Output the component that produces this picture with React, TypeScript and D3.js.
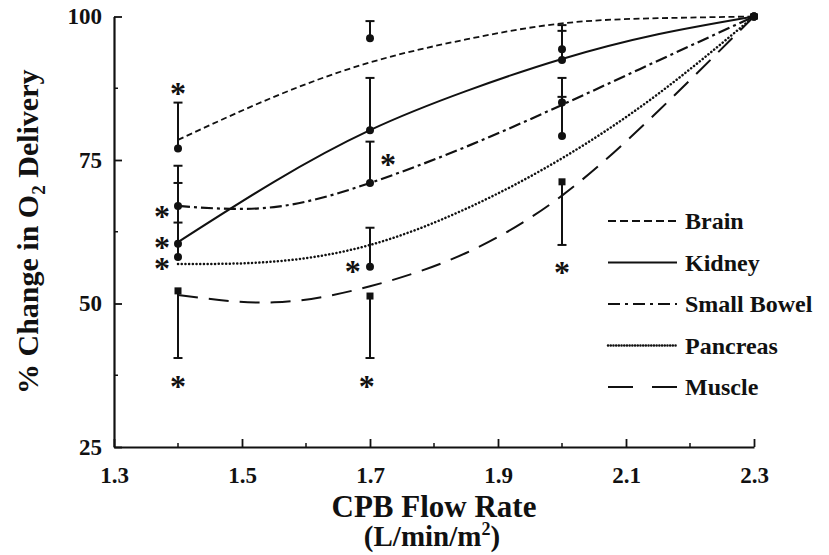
import React, { useRef, useEffect } from "react";
import * as d3 from "d3";

// tick values
const flowMajor = [1.3, 1.5, 1.7, 1.9, 2.1, 2.3];
const flowMinor = [1.4, 1.6, 1.8, 2.0, 2.2];
const pctMajor = [25, 50, 75, 100];
const pctMinor = [37.5, 62.5, 87.5];

// measured points (mean, end of the error bar)
const flowPoints = [1.4, 1.7, 2.0, 2.3];
const brainMean = [77, 96.2, 94.3, 100];
const brainErr = [85, 99.2, 98.5, null];
const kidneyMean = [60.4, 80.2, 92.4, 100];
const kidneyErr = [71, 89.3, 97.5, null];
const bowelMean = [67, 71, 85, 100];
const bowelErr = [74, 78.2, 89.3, null];
const pancreasMean = [58.1, 56.4, 79.2, 100];
const pancreasErr = [64.1, 63.2, 86, null];
const muscleMean = [52.2, 51.3, 71.2, 100];
const muscleErr = [40.5, 40.5, 60.2, null];

// fitted curves
const fitFlow = [1.4, 1.55, 1.7, 1.85, 2.0, 2.15, 2.3];
const brainFit = [78.5, 86, 92, 96, 98.8, 99.7, 100];
const kidneyFit = [60.7, 71.2, 80.2, 87, 92.6, 96.9, 100];
const bowelFit = [67, 66.8, 71, 77.3, 84.6, 92.3, 100];
const pancreasFit = [56.9, 57.3, 60.2, 66.5, 75.3, 86.5, 100];
const muscleFit = [51.5, 50.2, 53, 58.8, 68.8, 83.5, 100];

// significance markers (flow, %)
const starFlow = [1.4, 1.375, 1.375, 1.375, 1.728, 1.673, 1.4, 1.695, 2.0];
const starPct = [87.4, 65.9, 60.5, 56.9, 75, 56.4, 36.3, 36.3, 56.2];

const seriesNames = ["Brain", "Kidney", "Small Bowel", "Pancreas", "Muscle"];

const styles = [
  { dash: "6 3.5", legendDash: "8 4", w: 1.8 },
  { dash: null, legendDash: null, w: 2 },
  { dash: "12 4 3 4", legendDash: "12 5 3 5", w: 2.2 },
  { dash: "0.1 3.6", legendDash: "0.1 2.6", w: 2.5, round: true },
  { dash: "20 11", legendDash: "25 19", w: 2 },
];

const means = [brainMean, kidneyMean, bowelMean, pancreasMean, muscleMean];
const errs = [brainErr, kidneyErr, bowelErr, pancreasErr, muscleErr];
const fits = [brainFit, kidneyFit, bowelFit, pancreasFit, muscleFit];

const W = 829;
const H = 555;
const FONT = '"Liberation Serif", "Times New Roman", serif';
const INK = "#111";

const x = d3.scaleLinear().domain([1.3, 2.3]).range([114, 754]);
const y = d3.scaleLinear().domain([25, 100]).range([447, 16.5]);

const App = () => {
  const xAxisRef = useRef<SVGGElement>(null);
  const yAxisRef = useRef<SVGGElement>(null);

  useEffect(() => {
    const gx = d3.select(xAxisRef.current);
    gx.selectAll("*").remove();
    gx.call(
      d3.axisBottom(x).tickValues(flowMajor).tickSize(-8).tickSizeOuter(0).tickPadding(20).tickFormat(d3.format(".1f"))
    );
    gx.selectAll("g.minor")
      .data(flowMinor)
      .enter()
      .append("line")
      .attr("x1", (d) => x(d))
      .attr("x2", (d) => x(d))
      .attr("y1", 0)
      .attr("y2", -4)
      .attr("stroke", INK)
      .attr("stroke-width", 1.5);

    const gy = d3.select(yAxisRef.current);
    gy.selectAll("*").remove();
    gy.call(d3.axisLeft(y).tickValues(pctMajor).tickSize(-8).tickSizeOuter(0).tickPadding(12));
    gy.selectAll("g.minor")
      .data(pctMinor)
      .enter()
      .append("line")
      .attr("y1", (d) => y(d))
      .attr("y2", (d) => y(d))
      .attr("x1", 0)
      .attr("x2", 4)
      .attr("stroke", INK)
      .attr("stroke-width", 1.5);

    [gx, gy].forEach((g) => {
      g.select(".domain").attr("stroke", INK).attr("stroke-width", 2.2);
      g.selectAll(".tick line").attr("stroke", INK).attr("stroke-width", 1.8);
      g.selectAll(".tick text")
        .attr("fill", INK)
        .style("font-family", FONT)
        .style("font-size", "23px")
        .style("font-weight", "bold");
    });
  }, []);

  const fitLine = d3
    .line<number>()
    .x((_, i) => x(fitFlow[i]))
    .y((d) => y(d))
    .curve(d3.curveNatural);

  const legendX0 = 608;
  const legendX1 = 677;
  const legendY0 = 229;
  const legendStep = 41.5;

  return (
    <div style={{ position: "absolute", left: 0, top: 0 }}>
      <svg width={W} height={H} style={{ display: "block", background: "#fff" }}>
        {/* fitted curves */}
        {fits.map((f, i) => (
          <path
            key={"fit" + i}
            d={fitLine(f) || ""}
            fill="none"
            stroke={INK}
            strokeWidth={styles[i].w}
            strokeDasharray={styles[i].dash || undefined}
            strokeLinecap={styles[i].round ? "round" : "butt"}
          />
        ))}

        {/* error bars and points */}
        {means.map((m, i) =>
          m.map((v, j) => {
            const e = errs[i][j];
            const cx = x(flowPoints[j]);
            return (
              <g key={"pt" + i + "-" + j}>
                {e !== null && (
                  <>
                    <line x1={cx} x2={cx} y1={y(v)} y2={y(e)} stroke={INK} strokeWidth={2} />
                    <line x1={cx - 4.5} x2={cx + 4.5} y1={y(e)} y2={y(e)} stroke={INK} strokeWidth={2} />
                  </>
                )}
                {i === 4 ? (
                  <rect x={cx - 3.5} y={y(v) - 3.5} width={7} height={7} fill={INK} />
                ) : (
                  <circle cx={cx} cy={y(v)} r={4} fill={INK} />
                )}
              </g>
            );
          })
        )}

        {/* asterisks */}
        {starFlow.map((f, i) => (
          <text
            key={"star" + i}
            x={x(f)}
            y={y(starPct[i]) + 15}
            textAnchor="middle"
            fontFamily={FONT}
            fontWeight="bold"
            fontSize={32}
            fill={INK}
          >
            *
          </text>
        ))}

        {/* axes */}
        <g ref={xAxisRef} transform={`translate(0,${y(25)})`} />
        <g ref={yAxisRef} transform={`translate(${x(1.3)},0)`} />

        {/* legend */}
        {seriesNames.map((name, i) => {
          const by = legendY0 + i * legendStep;
          return (
            <g key={"lg" + i}>
              <line
                x1={legendX0}
                x2={legendX1}
                y1={by - 8}
                y2={by - 8}
                stroke={INK}
                strokeWidth={styles[i].w}
                strokeDasharray={styles[i].legendDash || undefined}
                strokeLinecap={styles[i].round ? "round" : "butt"}
              />
              <text x={685} y={by} fontFamily={FONT} fontWeight="bold" fontSize={24} fill={INK}>
                {name}
              </text>
            </g>
          );
        })}

        {/* axis titles */}
        <text x={434} y={517} textAnchor="middle" fontFamily={FONT} fontWeight="bold" fontSize={31} fill={INK}>
          CPB Flow Rate
        </text>
        <text x={432} y={546} textAnchor="middle" fontFamily={FONT} fontWeight="bold" fontSize={29} fill={INK}>
          (L/min/m
          <tspan fontSize={18} dy={-11}>
            2
          </tspan>
          <tspan dy={11}>)</tspan>
        </text>
        <text
          transform={`translate(38,${y(62.5)}) rotate(-90)`}
          textAnchor="middle"
          fontFamily={FONT}
          fontWeight="bold"
          fontSize={30}
          fill={INK}
        >
          % Change in O
          <tspan fontSize={19} dy={7}>
            2
          </tspan>
          <tspan dy={-7}> Delivery</tspan>
        </text>
      </svg>
    </div>
  );
};

export default App;
